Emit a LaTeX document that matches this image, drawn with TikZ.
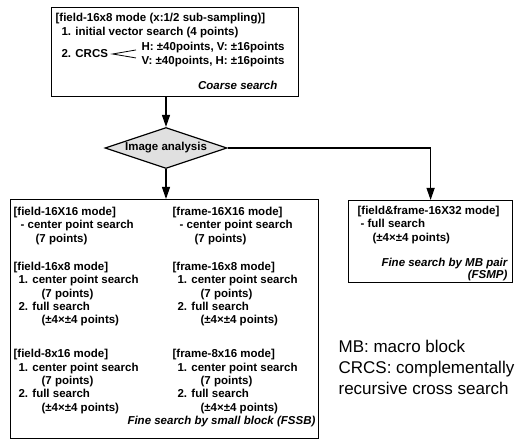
\documentclass[tikz,border=0pt]{standalone}
\usepackage{fontspec}
\setmainfont{Liberation Sans}
\usetikzlibrary{shapes.geometric,arrows.meta}

\tikzset{every picture/.style={line width=1.2pt},
  box/.style={draw, rectangle, inner sep=0pt, anchor=north west},
  txt/.style={inner sep=0pt, anchor=north west, align=left, font=\fontsize{11.5}{14}\selectfont\bfseries},
  mode/.style={txt, font=\fontsize{11.5}{13.3}\selectfont\bfseries},
  tag/.style={inner sep=0pt, font=\fontsize{11.5}{12.5}\selectfont\bfseries\itshape},
  arr/.style={-{Triangle[length=12pt,width=8pt]}}}

\begin{document}
\begin{tikzpicture}[x=1pt,y=-1pt]
        \useasboundingbox (0,0) rectangle (520,443);
        % coarse search
        \node[box, minimum width=247pt, minimum height=89pt] (coarse) at (51,7) {};
        \node[txt] (cline) at (55,12.5) {[field-16x8 mode (x:1/2 sub-sampling)]\\\hspace*{6pt}1. initial vector search (4 points)};
        \node[txt, anchor=west] (crcs) at (61,54) {2. CRCS};
        \node[txt] (hv) at (141,41.5) {H: ±40points, V: ±16points\\V: ±40points, H: ±16points};
        \draw[line width=0.8pt] ([xshift=-5pt,yshift=4.5pt]hv.west) -- ([xshift=4pt]crcs.east) -- ([xshift=-5pt,yshift=-3.5pt]hv.west);
        \node[tag, anchor=east] (ctag) at (278,85) {Coarse search};
        % image analysis
        \node[draw, diamond, aspect=3, inner sep=1pt, minimum width=122pt, minimum height=41pt, fill=black!12,
              font=\fontsize{11.5}{14}\selectfont\bfseries] (dia) at (166,148) {Image analysis};
        % fine search by small block
        \node[box, minimum width=308pt, minimum height=239pt] (fssb) at (10,199) {};
        \node[mode] (f1) at (13,206.5) {[field-16X16 mode]\\\hspace*{7pt}- center point search\\\hspace*{22pt}(7 points)};
        \node[mode] (f2) at (13,261.5) {[field-16x8 mode]\\\hspace*{5pt}1. center point search\\\hspace*{28pt}(7 points)\\\hspace*{5pt}2. full search\\\hspace*{28pt}(±4×±4 points)};
        \node[mode] (f3) at (13,349) {[field-8x16 mode]\\\hspace*{5pt}1. center point search\\\hspace*{28pt}(7 points)\\\hspace*{5pt}2. full search\\\hspace*{28pt}(±4×±4 points)};
        \node[mode] (r1) at (172,206.5) {[frame-16X16 mode]\\\hspace*{7pt}- center point search\\\hspace*{22pt}(7 points)};
        \node[mode] (r2) at (172,261.5) {[frame-16x8 mode]\\\hspace*{5pt}1. center point search\\\hspace*{28pt}(7 points)\\\hspace*{5pt}2. full search\\\hspace*{28pt}(±4×±4 points)};
        \node[mode] (r3) at (172,349) {[frame-8x16 mode]\\\hspace*{5pt}1. center point search\\\hspace*{28pt}(7 points)\\\hspace*{5pt}2. full search\\\hspace*{28pt}(±4×±4 points)};
        \node[tag, anchor=east] (stag) at (316,422) {Fine search by small block (FSSB)};
        % fine search by MB pair
        \node[box, minimum width=164pt, minimum height=82pt] (fsmp) at (348,200) {};
        \node[mode] (p1) at (357,205.5) {[field\&frame-16X32 mode]\\\hspace*{3pt}- full search\\\hspace*{15pt}(±4×±4 points)};
        \node[tag, anchor=north east, align=right] (ptag) at (508,257.5) {Fine search by MB pair\\(FSMP)};
        % legend
        \node[inner sep=0pt, anchor=north west, align=left, font=\fontsize{17}{21}\selectfont] (legend) at (338,340)
             {MB: macro block\\CRCS: complementally\\recursive cross search};
        % connectors
        \draw[arr] (dia.north |- coarse.south) -- (dia.north);
        \draw[arr] (dia.south) -- (dia.south |- fssb.north);
        \draw[arr] (dia.east) -| (fsmp.north);
    \end{tikzpicture}
\end{document}
